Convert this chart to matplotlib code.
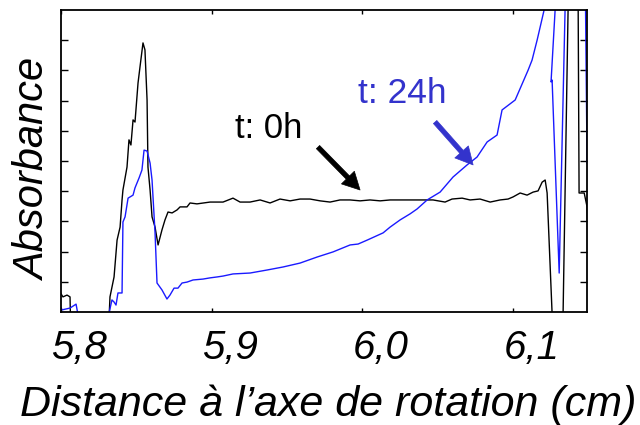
import numpy as np
import matplotlib.pyplot as plt
import matplotlib.transforms as mtransforms

plt.rcParams['font.family'] = ['Liberation Sans', 'DejaVu Sans']

# Absorbance profile at t = 0 h (values below 0 / above 1 are off-scale, clipped by the axes)
x_0h = [5.7993, 5.8013, 5.8040, 5.8060, 5.8066, 5.8312, 5.8319, 5.8325, 5.8352, 5.8372,
        5.8392, 5.8405, 5.8411, 5.8438, 5.8451, 5.8464, 5.8478, 5.8491, 5.8511, 5.8524,
        5.8544, 5.8557, 5.8571, 5.8577, 5.8591, 5.8604, 5.8624, 5.8644, 5.8670, 5.8690,
        5.8710, 5.8737, 5.8770, 5.8790, 5.8836, 5.8856, 5.8902, 5.8989, 5.9075, 5.9141,
        5.9188, 5.9254, 5.9321, 5.9387, 5.9453, 5.9520, 5.9586, 5.9652, 5.9719, 5.9785,
        5.9851, 5.9918, 5.9984, 6.0050, 6.0117, 6.0183, 6.0250, 6.0316, 6.0382, 6.0468,
        6.0548, 6.0594, 6.0661, 6.0714, 6.0780, 6.0847, 6.0913, 6.0966, 6.0999, 6.1046,
        6.1092, 6.1132, 6.1165, 6.1192, 6.1212, 6.1225, 6.1258, 6.1278, 6.1318, 6.1331,
        6.1364, 6.1377, 6.1424, 6.1431, 6.1437, 6.1471, 6.1490, 6.1504]
y_0h = [0.066, 0.050, 0.056, 0.050, -0.10, -0.10, -0.02, 0.050, 0.116, 0.238,
        0.281, 0.371, 0.404, 0.480, 0.570, 0.553, 0.636, 0.629, 0.758, 0.811,
        0.891, 0.868, 0.702, 0.480, 0.404, 0.315, 0.281, 0.222, 0.272, 0.305,
        0.331, 0.328, 0.338, 0.348, 0.348, 0.361, 0.358, 0.364, 0.364, 0.377,
        0.364, 0.364, 0.371, 0.361, 0.374, 0.368, 0.374, 0.374, 0.368, 0.364,
        0.371, 0.371, 0.368, 0.371, 0.368, 0.371, 0.371, 0.371, 0.371, 0.371,
        0.364, 0.374, 0.377, 0.371, 0.374, 0.364, 0.371, 0.374, 0.381, 0.394,
        0.387, 0.397, 0.401, 0.430, 0.437, 0.394, -0.005, -0.15, -0.15, 0.0,
        1.0, 1.15, 1.15, 1.0, 0.394, 0.394, 0.348, 0.073]

# Absorbance profile at t = 24 h
x_24h = [5.7987, 5.8007, 5.8060, 5.8100, 5.8113, 5.8126, 5.8299, 5.8319, 5.8338, 5.8352,
         5.8365, 5.8378, 5.8405, 5.8411, 5.8425, 5.8445, 5.8478, 5.8491, 5.8518, 5.8537,
         5.8551, 5.8571, 5.8591, 5.8604, 5.8624, 5.8637, 5.8670, 5.8703, 5.8723, 5.8750,
         5.8776, 5.8803, 5.8836, 5.8876, 5.8942, 5.8989, 5.9035, 5.9075, 5.9141, 5.9254,
         5.9367, 5.9473, 5.9586, 5.9699, 5.9805, 5.9918, 5.9971, 6.0031, 6.0137, 6.0183,
         6.0250, 6.0316, 6.0362, 6.0429, 6.0515, 6.0601, 6.0694, 6.0760, 6.0827, 6.0893,
         6.0926, 6.1013, 6.1099, 6.1125, 6.1159, 6.1205, 6.1232, 6.1271, 6.1278, 6.1251,
         6.1258, 6.1305, 6.1344, 6.1357, 6.1477, 6.1490]
y_24h = [0.026, 0.007, 0.013, 0.026, -0.01, -0.15, -0.15, -0.003, 0.040, 0.033,
         0.023, 0.063, 0.063, 0.298, 0.315, 0.377, 0.387, 0.411, 0.444, 0.470,
         0.536, 0.533, 0.493, 0.437, 0.262, 0.096, 0.073, 0.043, 0.056, 0.079,
         0.079, 0.096, 0.099, 0.106, 0.109, 0.113, 0.116, 0.119, 0.126, 0.129,
         0.139, 0.149, 0.162, 0.182, 0.199, 0.222, 0.225, 0.238, 0.262, 0.281,
         0.305, 0.325, 0.341, 0.371, 0.397, 0.447, 0.487, 0.513, 0.563, 0.586,
         0.669, 0.702, 0.801, 0.834, 0.901, 1.0, 1.15, 1.10, 1.0, 0.762,
         0.768, 0.129, 1.0, 1.15, 1.15, 0.493]

x_ticks = [5.8, 5.9, 6.0, 6.1]
x_tick_labels = ['5,8', '5,9', '6,0', '6,1']

fig = plt.figure(figsize=(6.4, 4.25), dpi=100)
ax = fig.add_axes([0.0953, 0.2659, 0.822, 0.7106])

ax.plot(x_0h, y_0h, color='black', lw=1.0)
ax.plot(x_24h, y_24h, color='#1a1aff', lw=1.0)

ax.set_xlim(5.8, 6.149)
ax.set_ylim(0, 1)

# ticks
ax.set_xticks(x_ticks)
ax.set_xticklabels(x_tick_labels, fontsize=29, style='italic')
ax.set_yticks(np.arange(0.1, 1.0, 0.1))
ax.set_yticklabels([])
ax.tick_params(axis='x', direction='in', top=True, length=3, width=1, pad=12)
ax.tick_params(axis='y', direction='in', right=True, length=5, width=1)
offset = mtransforms.ScaledTranslation(18 / 100, 0, fig.dpi_scale_trans)
for lbl in ax.get_xticklabels():
    lbl.set_transform(lbl.get_transform() + offset)
for sp in ax.spines.values():
    sp.set_linewidth(1.3)

ax.set_xlabel('Distance à l\u2019axe de rotation (cm)', fontsize=31, style='italic',
              va='baseline')
ax.xaxis.set_label_coords(0.508, -0.344)
ax.set_ylabel('Absorbance', fontsize=30, style='italic', va='center')
ax.yaxis.set_label_coords(-0.052, 0.47)

# annotations
ax.text(5.9155, 0.576, 't: 0h', fontsize=25, color='black', va='baseline')
ax.text(5.9971, 0.692, 't: 24h', fontsize=25.5, color='#3333cc', va='baseline')
ax.annotate('', xy=(5.9984, 0.404), xytext=(5.9705, 0.546),
            arrowprops=dict(arrowstyle='simple,head_length=1.25,head_width=1.3,tail_width=0.33',
                            color='black', lw=0.5, mutation_scale=10, shrinkA=0, shrinkB=0))
ax.annotate('', xy=(6.0734, 0.487), xytext=(6.0482, 0.629),
            arrowprops=dict(arrowstyle='simple,head_length=1.25,head_width=1.3,tail_width=0.33',
                            color='#3333cc', lw=0.5, mutation_scale=10, shrinkA=0, shrinkB=0))

plt.savefig('out.png', dpi=100)
